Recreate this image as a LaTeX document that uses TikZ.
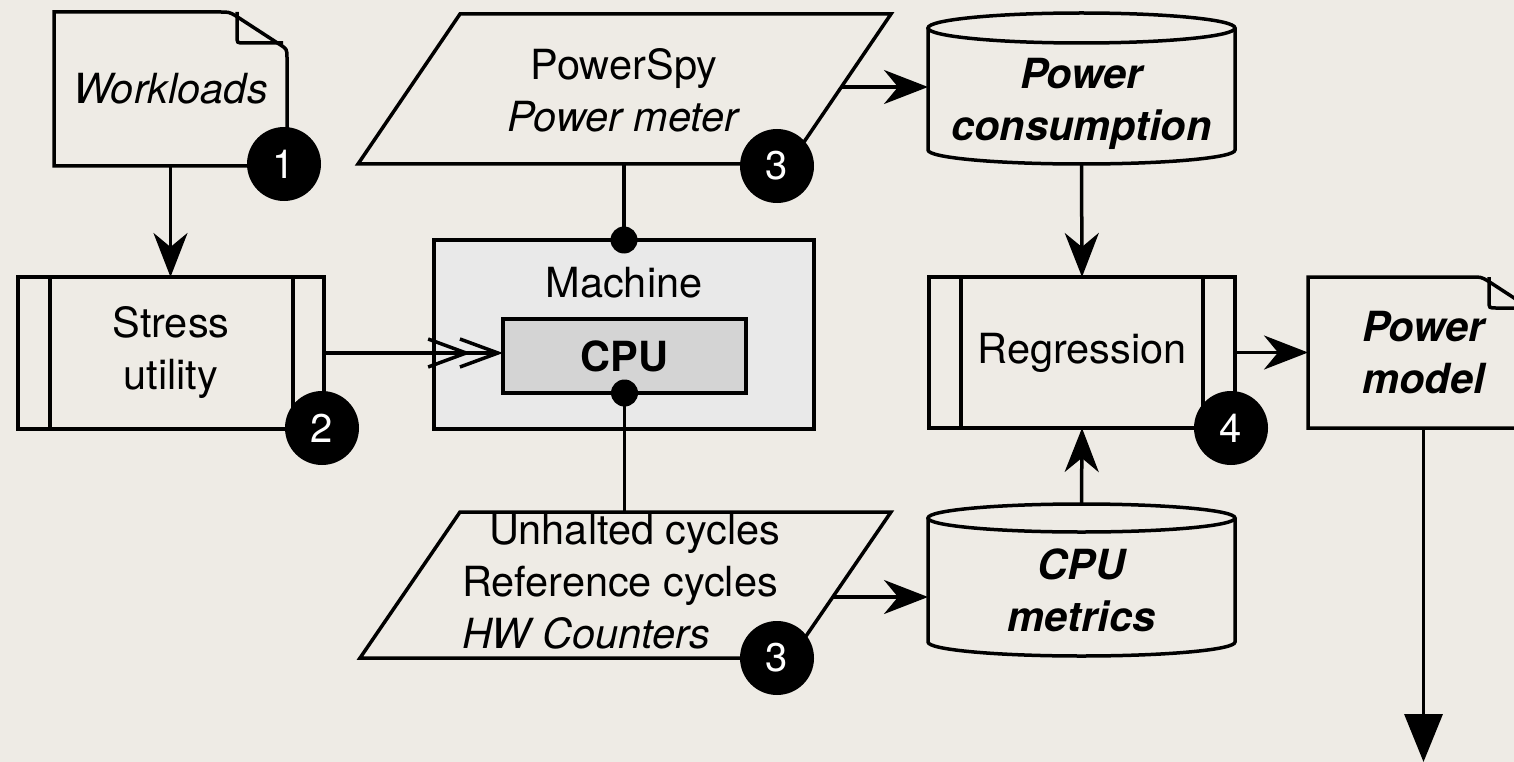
\documentclass[tikz,border=0pt]{standalone}
\usepackage{fontspec}
\setmainfont{TeX Gyre Heros}
\usetikzlibrary{arrows.meta,calc,shapes.geometric}
\definecolor{bg}{RGB}{238,235,229}
\definecolor{machfill}{RGB}{233,233,233}
\definecolor{cpufill}{RGB}{212,212,212}
\newcommand\docoutline[1]{%
  \draw[ln] (#1.north west) -- ([xshift=-67pt]#1.north east)
     .. controls ([xshift=-58pt]#1.north east) .. ([xshift=-51pt,yshift=-4pt]#1.north east)
     -- ([xshift=-8pt,yshift=-32pt]#1.north east)
     .. controls ([yshift=-37pt]#1.north east) .. ([yshift=-46pt]#1.north east)
     -- (#1.south east) -- (#1.south west) -- cycle;
  \draw[ln] ([xshift=-50pt]#1.north east) -- ([xshift=-50pt,yshift=-24pt]#1.north east)
     .. controls ([xshift=-50pt,yshift=-31pt]#1.north east) .. ([xshift=-43pt,yshift=-31pt]#1.north east)
     -- ([xshift=-4pt,yshift=-31pt]#1.north east);
}
\begin{document}
\begin{tikzpicture}[x=1pt,y=-1pt,
  ln/.style={line width=3.5pt},
  blank/.style={inner sep=0pt, outer sep=0pt, align=center, font=\fontsize{41.5}{52}\selectfont},
  txt/.style={inner sep=0pt, outer sep=0pt, align=center, font=\fontsize{41.5}{52}\selectfont},
  bitxt/.style={txt, font=\fontsize{41.5}{52}\selectfont\bfseries\itshape},
  badge/.style={circle, fill=black, minimum size=74pt, inner sep=0pt, text=white, font=\fontsize{40}{48}\selectfont},
  arr/.style={-{Stealth[length=44pt,width=34pt,inset=14pt]}},
  dbl/.style={-{Straight Barb[length=38pt,width=28pt,sep=-13pt]Straight Barb[length=38pt,width=28pt]}},
  tri/.style={-{Triangle[length=48pt,width=38pt]}},
  dot/.style={circle, fill=black, minimum size=27pt, inner sep=0pt}
]
\useasboundingbox (0,0) rectangle (1514,762);
\fill[bg] (0,0) rectangle (1514,762);
\clip (0,0) rectangle (1514,762);

% Workloads document
\node[blank, minimum width=233pt, minimum height=154pt, font=\fontsize{41.5}{52}\selectfont\itshape] (wl) at (170.5,89) {Workloads};
\docoutline{wl}

% Stress utility
\node[blank, draw, ln, minimum width=306pt, minimum height=152pt] (su) at (171,353) {Stress\\utility};
\draw[ln] ([xshift=32pt]su.north west) -- ([xshift=32pt]su.south west);
\draw[ln] ([xshift=-31pt]su.north east) -- ([xshift=-31pt]su.south east);

% Machine
\node[blank, draw, ln, fill=machfill, minimum width=380pt, minimum height=189pt] (mach) at (624,334.5) {};
\node[txt] (machlbl) at (624,283) {Machine};
\node[blank, draw, ln, fill=cpufill, minimum width=243pt, minimum height=74pt, font=\fontsize{41.5}{52}\selectfont\bfseries] (cpu) at (624.5,356) {CPU};

% PowerSpy parallelogram
\draw[ln] (460,14) -- (891,14) -- (789,164) -- (358,164) -- cycle;
\node[txt] (ps) at (624,90) {PowerSpy\\\textit{Power meter}};
\coordinate (psout) at (841,87);
\coordinate (psbot) at (624,164);

% HW counters parallelogram
\draw[ln] (460,512) -- (891,512) -- (791,658) -- (360,658) -- cycle;
\node[txt, align=left, anchor=west] (hw) at (462,582) {\hspace*{27pt}Unhalted cycles\\Reference cycles\\\textit{HW Counters}};
\coordinate (hwout) at (833,597);
\coordinate (hwtop) at (624.5,512);

% Power consumption cylinder
\node[blank, minimum width=307pt, minimum height=151pt] (pcbody) at (1081.5,88.5) {};
\draw[ln] (1081.5,28) ellipse [x radius=153.5, y radius=15];
\draw[ln] (928,28) -- (928,150) arc[start angle=180,end angle=0,x radius=153.5,y radius=14] -- (1235,28);
\node[bitxt] (pclbl) at (1081.5,104) {Power\\consumption};

% CPU metrics cylinder
\node[blank, minimum width=307pt, minimum height=152pt] (cmbody) at (1081.5,580) {};
\draw[ln] (1081.5,518) ellipse [x radius=153.5, y radius=14];
\draw[ln] (928,518) -- (928,642) arc[start angle=180,end angle=0,x radius=153.5,y radius=14] -- (1235,518);
\node[bitxt] (cmlbl) at (1081.5,590) {CPU\\metrics};

% Regression
\node[blank, draw, ln, minimum width=306pt, minimum height=151pt] (reg) at (1082,352.5) {Regression};
\draw[ln] ([xshift=32pt]reg.north west) -- ([xshift=32pt]reg.south west);
\draw[ln] ([xshift=-32pt]reg.north east) -- ([xshift=-32pt]reg.south east);

% Power model document
\node[blank, minimum width=231pt, minimum height=151pt, font=\fontsize{41.5}{52}\selectfont\bfseries\itshape] (pm) at (1423.5,352.5) {Power\\model};
\docoutline{pm}
\coordinate (outend) at (1423.5,762);

% connectors
\draw[ln, arr] (wl.south) -- (wl.south |- su.north);
\draw[ln, dbl] (su.east) -- (su.east -| cpu.west);
\draw[ln] (psbot) -- (mach.north);
\draw[ln] (cpu.south) -- (hwtop);
\draw[ln, arr] (psout) -- (psout -| pcbody.west);
\draw[ln, arr] (hwout) -- (hwout -| cmbody.west);
\draw[ln, arr] (pcbody.south) -- (reg.north);
\draw[ln, arr] (cmbody.north) -- (reg.south);
\draw[ln, arr] (reg.east) -- (pm.west);
\draw[ln, tri] (pm.south) -- (outend);

% dots
\node[dot] (d1) at (mach.north) {};
\node[dot] (d2) at (cpu.south) {};

% badges
\node[badge] (b1) at (284,164) {1};
\node[badge] (b2) at (322,428) {2};
\node[badge] (b3a) at (777,166) {3};
\node[badge] (b3b) at (777,658) {3};
\node[badge] (b4) at (1231,428) {4};
\end{tikzpicture}
\end{document}
